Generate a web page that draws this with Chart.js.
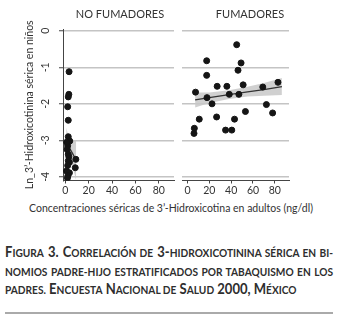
<!DOCTYPE html>
<html>
<head>
<meta charset="utf-8">
<script src="https://cdn.jsdelivr.net/npm/chart.js@4"></script>
<style>
  html, body { margin:0; padding:0; background:#fff; }
  body { width:340px; height:320px; position:relative; overflow:hidden; font-family:Lato, "Open Sans", sans-serif; color:#333; }
  .abs { position:absolute; }
  #c1wrap { left:0; top:0; width:178px; height:200px; }
  #c2wrap { left:178px; top:0; width:115px; height:200px; }
  .ptitle { font-size:11px; top:7px; white-space:nowrap; transform:translateX(-50%); color:#333; }
  #xtitle { top:202px; left:171px; transform:translateX(-50%); font-size:10.5px; white-space:nowrap; color:#333; }
  #cap { left:5px; top:243px; width:328px; transform-origin:0 0; font-weight:bold; font-size:15px; line-height:17.5px; color:#2e2e2e; }
  #cap div { white-space:nowrap; }
  #cap.ready div.just { text-align:justify; text-align-last:justify; white-space:normal; }
  .sc { text-transform:uppercase; font-size:0.78em; }
  #rule { left:5px; top:312px; width:328px; height:1.5px; background:#aaa; }
</style>
</head>
<body>
<div id="c1wrap" class="abs"><canvas id="c1" width="178" height="200"></canvas></div>
<div id="c2wrap" class="abs"><canvas id="c2" width="115" height="200"></canvas></div>
<div class="abs ptitle" style="left:120px">NO FUMADORES</div>
<div class="abs ptitle" style="left:250px">FUMADORES</div>
<div id="xtitle" class="abs">Concentraciones séricas de 3’-Hidroxicotina en adultos (ng/dl)</div>
<div id="cap" class="abs">
  <div class="just"><span id="l1">F<span class="sc">igura</span> 3. C<span class="sc">orrelación de</span> 3-<span class="sc">hidroxicotinina sérica en bi-</span></span></div>
  <div class="just"><span id="l2" class="sc">nomios padre-hijo estratificados por tabaquismo en los</span></div>
  <div><span id="l3"><span class="sc">padres.</span> E<span class="sc">ncuesta</span> N<span class="sc">acional de</span> S<span class="sc">alud</span> 2000, M<span class="sc">éxico</span></span></div>
</div>
<div id="rule" class="abs"></div>
<script>
// ---- data ----
const panelTitles = ['NO FUMADORES', 'FUMADORES'];
const yTicks = [0, -1, -2, -3, -4];
const xTicks = [0, 20, 40, 60, 80];

// No fumadores (adult concentration, ln child concentration)
const noX = [3.2, 3.0, 2.5, 2.0, 2.5, 2.5, 3.8, 2.0, 1.2, 1.5, 2.5, 3.0, 9.0, 2.5, 3.5, 2.0, 8.5, 1.0, 3.5, 2.2, 1.8];
const noY = [-1.12, -1.74, -1.81, -2.08, -2.45, -2.90, -3.02, -3.15, -3.05, -3.25, -3.38, -3.45, -3.52, -3.56, -3.60, -3.69, -3.75, -3.84, -3.89, -3.97, -4.03];
const noFitX = [0.8, 3, 6, 9.3];
const noFitY = [-3.05, -3.18, -3.35, -3.55];
const noUpper = [-2.65, -2.95, -3.02, -3.00];
const noLower = [-3.45, -3.40, -3.70, -4.10];

// Fumadores
const fuX = [45.1, 17.6, 49.1, 46.3, 17.6, 27.2, 36.1, 51.0, 69.0, 82.9, 7.4, 17.9, 38.3, 47.1, 22.5, 72.3, 53.1, 78.0, 10.8, 26.7, 43.1, 6.3, 6.0, 34.9, 40.6];
const fuY = [-0.38, -0.82, -0.88, -1.08, -1.22, -1.52, -1.52, -1.48, -1.54, -1.41, -1.68, -1.83, -1.74, -1.74, -2.00, -2.02, -2.21, -2.25, -2.42, -2.36, -2.42, -2.67, -2.81, -2.72, -2.72];
const fuFitX = [7, 20, 38, 55, 70, 86.5];
const fuFitY = [-1.89, -1.83, -1.75, -1.67, -1.61, -1.53];
const fuUpper = [-1.69, -1.69, -1.63, -1.53, -1.43, -1.29];
const fuLower = [-2.10, -1.98, -1.87, -1.80, -1.78, -1.76];

// ---- caption condensing: fit the widest justified line to the column ----
(function () {
  const cap = document.getElementById('cap');
  const w = Math.max(document.getElementById('l1').getBoundingClientRect().width,
                     document.getElementById('l2').getBoundingClientRect().width);
  const s = Math.min(1, 322 / w);
  cap.style.width = (328 / s) + 'px';
  cap.style.transform = 'scaleX(' + s + ')';
  cap.classList.add('ready');
})();

// ---- helpers ----
const pts = (xs, ys) => xs.map((x, i) => ({x, y: ys[i]}));
Chart.defaults.font.family = 'Lato, "Open Sans", sans-serif';
Chart.defaults.color = '#333';

function datasets(xs, ys, fx, fy, up, lo) {
  return [
    { data: pts(xs, ys), backgroundColor: '#151515', borderColor: '#151515', pointRadius: 3, pointHoverRadius: 3, showLine: false },
    { data: pts(fx, fy), showLine: true, borderColor: '#333', borderWidth: 1.3, pointRadius: 0, fill: false },
    { data: pts(fx, up), showLine: true, borderWidth: 0, borderColor: 'rgba(0,0,0,0)', pointRadius: 0, fill: false },
    { data: pts(fx, lo), showLine: true, borderWidth: 0, borderColor: 'rgba(0,0,0,0)', pointRadius: 0, fill: '-1', backgroundColor: 'rgba(200,200,200,0.85)' }
  ];
}

function makeChart(id, ds, xmin, xmax, showY) {
  return new Chart(document.getElementById(id), {
    type: 'scatter',
    data: { datasets: ds },
    options: {
      responsive: false,
      devicePixelRatio: 1,
      animation: false,
      events: [],
      layout: { padding: { top: 29, left: 0, right: 0, bottom: 0 } },
      plugins: { legend: { display: false }, tooltip: { enabled: false }, title: { display: false }, filler: { drawTime: 'beforeDatasetsDraw' } },
      scales: {
        x: {
          type: 'linear', min: xmin, max: xmax,
          afterBuildTicks: s => { s.ticks = xTicks.map(v => ({ value: v })); },
          afterFit: s => { s.height = 19.5; },
          border: { display: true, color: '#444', width: 1 },
          grid: { drawOnChartArea: false, drawTicks: true, tickLength: 3, tickColor: '#444' },
          ticks: { font: { size: 10.5 }, padding: 1, maxRotation: 0, minRotation: 0, color: '#333' }
        },
        y: {
          type: 'linear', min: -4.1, max: 0.05,
          afterBuildTicks: s => { s.ticks = yTicks.map(v => ({ value: v })); },
          afterCalculateLabelRotation: s => { s.labelRotation = 90; },
          afterFit: s => { s.width = showY ? 63 : 0; },
          border: { display: showY, color: '#444', width: 1 },
          grid: { color: '#c4c4c4', lineWidth: 1.5, drawTicks: showY, tickLength: 4, tickColor: '#444', tickWidth: 1 },
          ticks: { display: showY, font: { size: 10.5 }, padding: 8, minRotation: 90, maxRotation: 90, crossAlign: 'center', color: '#333' },
          title: { display: showY, text: 'Ln_3’-Hidroxicotinina sérica en niños', font: { size: 10.5 }, padding: { top: 23, bottom: 0 }, color: '#333' }
        }
      }
    }
  });
}

makeChart('c1', datasets(noX, noY, noFitX, noFitY, noUpper, noLower), -2, 93, true);
makeChart('c2', datasets(fuX, fuY, fuFitX, fuFitY, fuUpper, fuLower), -5, 93, false);
</script>
</body>
</html>
